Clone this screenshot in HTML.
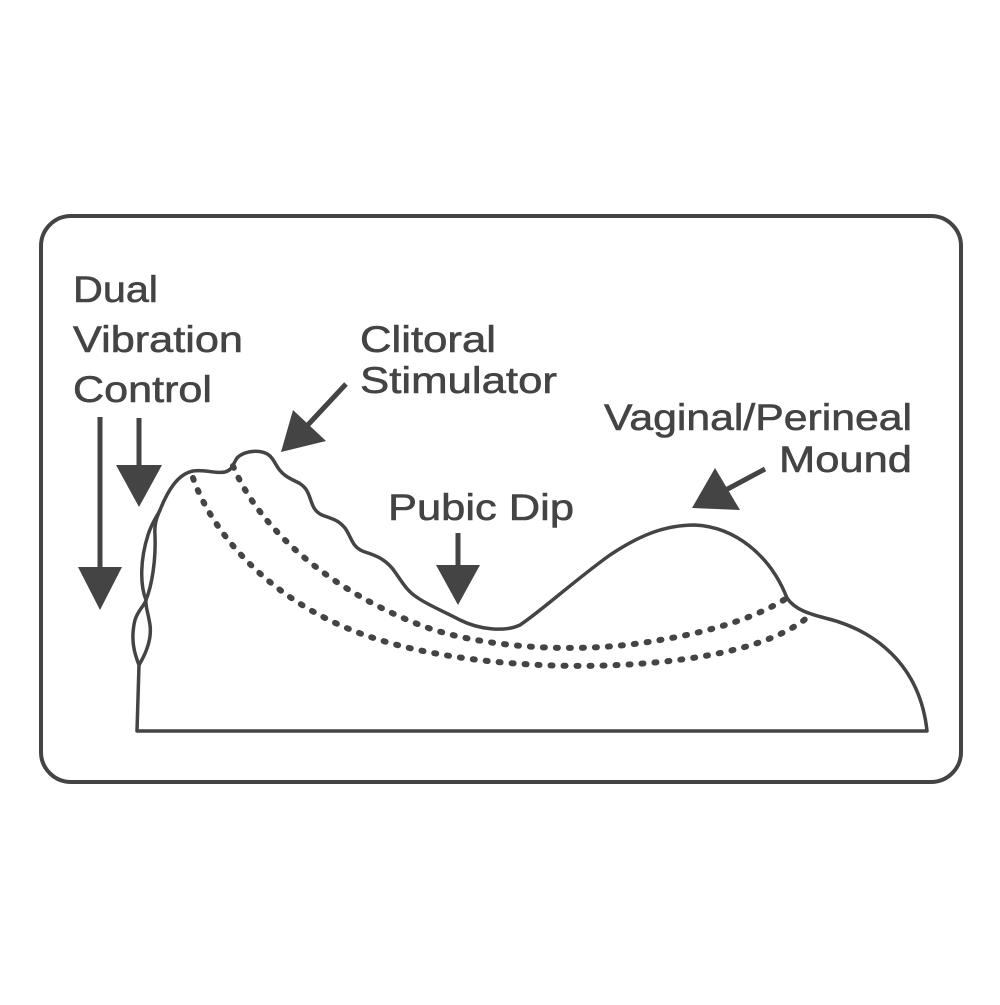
<!DOCTYPE html>
<html><head><meta charset="utf-8"><style>html,body{margin:0;padding:0;background:#fff}</style></head>
<body>
<svg width="1000" height="1000" viewBox="0 0 1000 1000" xmlns="http://www.w3.org/2000/svg">
<rect x="41" y="216" width="920" height="566" rx="30" ry="30" fill="none" stroke="#444" stroke-width="4"/>
<g font-family="Liberation Sans, sans-serif" font-size="37" fill="#444" stroke="#444" stroke-width="0.6">
<text x="73" y="302" textLength="85" lengthAdjust="spacingAndGlyphs">Dual</text>
<text x="73" y="352" textLength="170" lengthAdjust="spacingAndGlyphs">Vibration</text>
<text x="73" y="402" textLength="139" lengthAdjust="spacingAndGlyphs">Control</text>
<text x="360" y="352" textLength="136" lengthAdjust="spacingAndGlyphs">Clitoral</text>
<text x="360" y="393" textLength="197" lengthAdjust="spacingAndGlyphs">Stimulator</text>
<text x="604" y="430" textLength="308" lengthAdjust="spacingAndGlyphs">Vaginal/Perineal</text>
<text x="779" y="472" textLength="133" lengthAdjust="spacingAndGlyphs">Mound</text>
<text x="388" y="520" textLength="186" lengthAdjust="spacingAndGlyphs">Pubic Dip</text>
</g>
<g fill="#444" stroke="#444">
<line x1="100" y1="417" x2="100" y2="570" stroke-width="5"/>
<polygon points="78,567 122,567 100,610" stroke="none"/>
<line x1="139" y1="418" x2="139" y2="468" stroke-width="5"/>
<polygon points="116,465 162,465 139,507" stroke="none"/>
<line x1="346" y1="384" x2="305" y2="428" stroke-width="5"/>
<polygon points="281,452 293,410 326,441" stroke="none"/>
<line x1="458" y1="533" x2="458" y2="568" stroke-width="5"/>
<polygon points="436,565 480,565 458,605" stroke="none"/>
<line x1="765" y1="469" x2="722" y2="492" stroke-width="5"/>
<polygon points="692,508 715,468 740,510" stroke="none"/>
</g>
<g fill="none" stroke="#444" stroke-width="3.5" stroke-linejoin="round">
<path d="M137,731 L139,665 C135,655 130,640 135,620 C138,610 145,605 146,600 C140,585 140,560 148,535 C152,522 158,515 160,510 C168,490 178,474 193,471 C205,469 215,474 225,472 C232,470 232,466 237,458 C245,450 262,449 270,456 C276,462 277,470 286,476 C295,482 300,482 305,488 C312,496 310,510 322,515 C335,520 338,520 345,528 C352,538 352,548 365,552 C378,556 385,560 392,568 C400,578 405,590 418,598 C428,605 445,612 460,620 C480,630 505,632 520,625 C540,612 575,580 610,555 C640,535 665,525 695,525 C735,527 770,555 787,598 C795,610 810,614 825,618 C875,630 920,665 927,731 Z"/>
<path d="M146,600 C152,585 156,560 155,535 C154,522 158,515 160,510"/>
<path d="M139,665 C145,655 152,640 150,625 C148,612 145,605 146,600"/>
</g>
<g fill="none" stroke="#444" stroke-width="6" stroke-linecap="round" stroke-dasharray="2 11">
<path d="M233,466 C260,530 330,590 420,625 C480,648 580,655 660,640 C720,630 760,615 787,598"/>
<path d="M193,478 C215,540 280,610 380,640 C450,662 560,672 660,662 C730,655 780,640 808,617"/>
</g>
</svg>
</body></html>
